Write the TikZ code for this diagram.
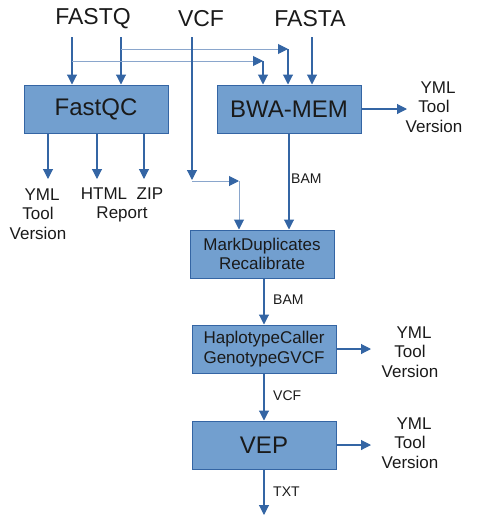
\documentclass[tikz,border=0pt]{standalone}
\usepackage{fontspec}
\setmainfont{Liberation Sans}
\usetikzlibrary{arrows.meta}
\definecolor{boxfill}{HTML}{729FCF}
\definecolor{boxline}{HTML}{3465A4}
\definecolor{thinline}{HTML}{8AA6CC}
\definecolor{txt}{HTML}{1A1A1A}
\tikzset{
  procbox/.style={draw=boxline, fill=boxfill, line width=1pt, minimum width=144pt, minimum height=48pt, inner sep=0pt, align=center, text=txt},
  bigfont/.style={font=\fontsize{24}{27}\selectfont},
  midfont/.style={font=\fontsize{17}{19.5}\selectfont},
  lblfont/.style={font=\fontsize{14}{16}\selectfont},
  inp/.style={font=\fontsize{23}{26}\selectfont, inner sep=0pt, text=txt},
  outtxt/.style={font=\fontsize{17}{19.5}\selectfont, align=center, inner sep=0pt, text=txt},
  lbl/.style={lblfont, inner sep=0pt, anchor=west, text=txt},
  arr/.style={draw=boxline, line width=1.1pt, -{Triangle[length=10pt,width=10pt]}},
  arrthin/.style={draw=thinline, line width=1pt, -{Triangle[length=10pt,width=10pt,color=boxline]}},
}
\begin{document}
\begin{tikzpicture}[x=1pt,y=-1pt]
\useasboundingbox (0,0) rectangle (480,517);
% inputs
\node[inp] (fastq) at (93,19) {FASTQ};
\node[inp] (vcf) at (201,19) {VCF};
\node[inp] (fasta) at (310,19) {FASTA};
% boxes
\node[procbox, bigfont] (fastqc) at (96,109) {FastQC};
\node[procbox, bigfont] (bwa) at (289,109) {BWA-MEM};
\node[procbox, midfont] (md) at (262,254) {MarkDuplicates\\Recalibrate};
\node[procbox, midfont] (hc) at (264,349) {HaplotypeCaller\\GenotypeGVCF};
\node[procbox, bigfont] (vep) at (264,445) {VEP};
% coordinates
\coordinate (q1) at (72,37);
\coordinate (q2) at (121,37);
\coordinate (j1) at (288,49);
\coordinate (j2) at (263,61);
\coordinate (a1) at (312,37);
\coordinate (v1) at (192,37);
\coordinate (v2) at (192,180);
\coordinate (v3) at (192,181);
\coordinate (j3) at (239,181);
% input arrows
\draw[arr] (q1) -- (q1 |- fastqc.north);
\draw[arr] (q2) -- (q2 |- fastqc.north);
\draw[arrthin] (q2 |- j1) -- (j1);
\draw[arr] (j1) -- (j1 |- bwa.north);
\draw[arrthin] (q1 |- j2) -- (j2);
\draw[arr] (j2) -- (j2 |- bwa.north);
\draw[arr] (a1) -- (a1 |- bwa.north);
\draw[arr] (v1) -- (v2);
\draw[arrthin] (v3) -- (j3);
\draw[arrthin] (j3) -- (j3 |- md.north);
% FastQC outputs
\coordinate (f1) at (48,179);
\coordinate (f2) at (97,179);
\coordinate (f3) at (144,179);
\draw[arr] (f1 |- fastqc.south) -- (f1);
\draw[arr] (f2 |- fastqc.south) -- (f2);
\draw[arr] (f3 |- fastqc.south) -- (f3);
\node[outtxt] (fqyml) at (38,214) {\hspace{8pt}YML\\Tool\hspace{5pt}\\Version};
\node[outtxt] (fqhtml) at (122,205) {HTML\hspace{9.5pt}ZIP\\Report};
% BWA outputs
\coordinate (b1) at (407,109);
\draw[arr] (bwa.east) -- (b1);
\node[outtxt] (bwayml) at (434,107) {\hspace{8pt}YML\\Tool\hspace{5pt}\\Version};
\draw[arr] (bwa.south) -- (bwa.south |- md.north);
\node[lbl] (bam1) at (291,179) {BAM};
% MarkDup -> HC
\draw[arr] (md.south -| hc.north) -- (hc.north);
\node[lbl] (bam2) at (273,300) {BAM};
% HC outputs
\coordinate (h1) at (371,349);
\draw[arr] (hc.east) -- (h1);
\node[outtxt] (hcyml) at (410,352) {\hspace{8pt}YML\\Tool\hspace{5pt}\\Version};
\draw[arr] (hc.south) -- (vep.north);
\node[lbl] (vcf2) at (273,396) {VCF};
% VEP outputs
\coordinate (e1) at (371,445);
\draw[arr] (vep.east) -- (e1);
\node[outtxt] (vepyml) at (410,443) {\hspace{8pt}YML\\Tool\hspace{5pt}\\Version};
\coordinate (e2) at (264,515);
\draw[arr] (vep.south) -- (e2);
\node[lbl] (txtl) at (273,492) {TXT};
\end{tikzpicture}
\end{document}
